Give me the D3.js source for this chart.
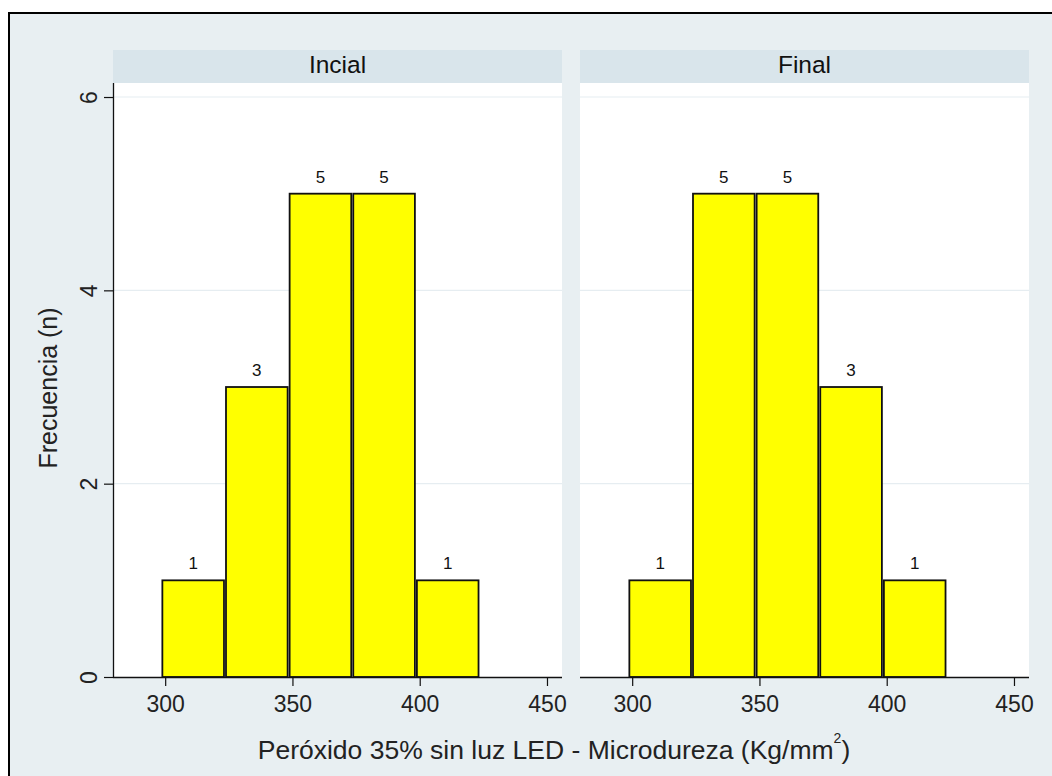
<!DOCTYPE html>
<html>
<head>
<meta charset="utf-8">
<script src="https://cdn.jsdelivr.net/npm/d3@7"></script>
<style>
  html, body { margin: 0; padding: 0; background: #ffffff; }
  svg { display: block; font-family: "Liberation Sans", Arial, sans-serif; }
</style>
</head>
<body>
<svg id="chart" width="1052" height="776"></svg>
<script>
// Histogram bins (lower edge of each bar, in Kg/mm²) and bin width
const binStarts = [298.5, 323.5, 348.5, 373.5, 398.5];
const binWidth = 25;
// Panels and their counts per bin
const panels = ["Incial", "Final"];
const countsIncial = [1, 3, 5, 5, 1];
const countsFinal = [1, 5, 5, 3, 1];
const xTicks = [300, 350, 400, 450];
const yTicks = [0, 2, 4, 6];
const yTitle = "Frecuencia (n)";
const xTitle = "Peróxido 35% sin luz LED - Microdureza (Kg/mm";

const seriesByPanel = [countsIncial, countsFinal];
const FONT = "Liberation Sans, Arial, sans-serif";

const svg = d3.select("#chart");

// outer frame
svg.append("rect").attr("x", 0).attr("y", 0).attr("width", 1052).attr("height", 776).attr("fill", "#ffffff");
svg.append("rect").attr("x", 9).attr("y", 13).attr("width", 1060).attr("height", 800)
  .attr("fill", "#e8eff2").attr("stroke", "#000").attr("stroke-width", 2);

const plotTop = 83, plotBottom = 677;
const panelX = [[113, 562], [580, 1029]];
const y = d3.scaleLinear().domain([0, 6.145]).range([plotBottom, plotTop]);

panels.forEach((name, i) => {
  const [x0, x1] = panelX[i];
  const x = d3.scaleLinear().domain([279.5, 455.9]).range([x0, x1]);
  const g = svg.append("g");

  // header strip
  g.append("rect").attr("x", x0).attr("y", 50).attr("width", x1 - x0).attr("height", plotTop - 50)
    .attr("fill", "#d9e5eb");
  g.append("text").attr("x", (x0 + x1) / 2).attr("y", 73).attr("text-anchor", "middle")
    .attr("font-size", 24.5).attr("fill", "#111").text(name);

  // plot area
  g.append("rect").attr("x", x0).attr("y", plotTop).attr("width", x1 - x0).attr("height", plotBottom - plotTop)
    .attr("fill", "#ffffff");

  // grid lines
  g.selectAll("line.grid").data(yTicks.filter(t => t > 0)).join("line")
    .attr("x1", x0).attr("x2", x1)
    .attr("y1", d => y(d)).attr("y2", d => y(d))
    .attr("stroke", "#e6edf1").attr("stroke-width", 1.2);

  // bars
  const counts = seriesByPanel[i];
  const bars = binStarts.map((b, k) => ({ lo: b, hi: b + binWidth, n: counts[k] }));
  g.selectAll("rect.bar").data(bars).join("rect")
    .attr("x", d => x(d.lo) + 1).attr("width", d => x(d.hi) - x(d.lo) - 2)
    .attr("y", d => y(d.n)).attr("height", d => y(0) - y(d.n))
    .attr("fill", "#ffff00").attr("stroke", "#111").attr("stroke-width", 1.8);

  g.selectAll("text.val").data(bars).join("text")
    .attr("x", d => x((d.lo + d.hi) / 2)).attr("y", d => y(d.n) - 11)
    .attr("text-anchor", "middle").attr("font-size", 17).attr("fill", "#111")
    .text(d => d.n);

  // x axis
  const xAxis = d3.axisBottom(x).tickValues(xTicks).tickFormat(d3.format("d"))
    .tickSize(9).tickPadding(6).tickSizeOuter(0);
  const ax = g.append("g").attr("transform", `translate(0,${plotBottom})`).call(xAxis)
    .attr("font-size", 23).attr("font-family", FONT);
  ax.select(".domain").attr("d", `M${x0},0.5H${x1}`).attr("stroke", "#111").attr("stroke-width", 1.3);
  ax.selectAll(".tick line").attr("stroke", "#111").attr("stroke-width", 1.2);
  ax.selectAll(".tick text").attr("fill", "#222").attr("dy", null).attr("y", 35);

  // y axis on the first panel only
  if (i === 0) {
    const yAxis = d3.axisLeft(y).tickValues(yTicks).tickFormat(d3.format("d"))
      .tickSize(9).tickPadding(5).tickSizeOuter(0);
    const ay = g.append("g").attr("transform", `translate(${x0},0)`).call(yAxis)
      .attr("font-size", 23).attr("font-family", FONT);
    ay.select(".domain").attr("d", `M0.5,${plotBottom}V${plotTop}`).attr("stroke", "#111").attr("stroke-width", 1.3);
    ay.selectAll(".tick line").attr("stroke", "#111").attr("stroke-width", 1.2);
    ay.selectAll(".tick text").attr("fill", "#222")
      .attr("text-anchor", "middle").attr("dy", null)
      .attr("x", 0).attr("y", 0)
      .attr("transform", "translate(-16,0) rotate(-90)");
  }
});

// axis titles
svg.append("text")
  .attr("transform", `translate(57,${(plotTop + plotBottom) / 2 + 8}) rotate(-90)`)
  .attr("text-anchor", "middle").attr("font-size", 25).attr("fill", "#222").text(yTitle);

const xt = svg.append("text").attr("x", 554).attr("y", 759).attr("text-anchor", "middle")
  .attr("font-size", 26.5).attr("fill", "#222");
xt.append("tspan").text(xTitle);
xt.append("tspan").attr("font-size", 14).attr("dy", -16).text("2");
xt.append("tspan").attr("dy", 16).text(")");
</script>
</body>
</html>
